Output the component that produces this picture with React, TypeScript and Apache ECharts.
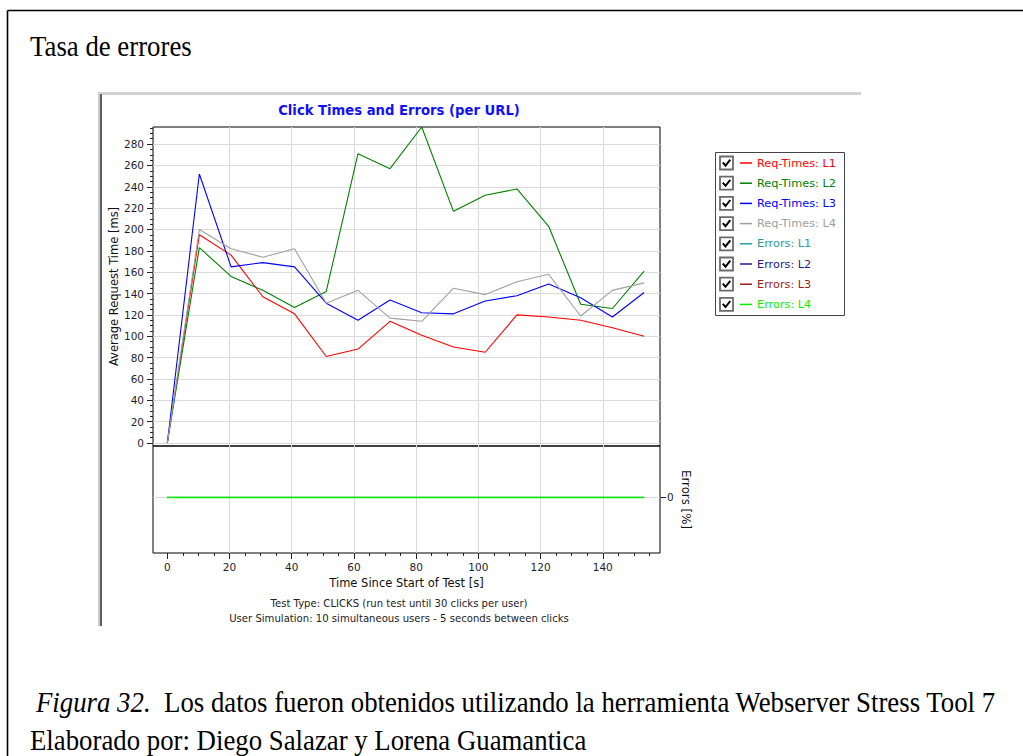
import { useEffect, useRef } from 'react';
import * as echarts from 'echarts';

// Time (s) of each sample
const times = [0, 10.3, 20.5, 30.7, 40.9, 51.1, 61.3, 71.6, 81.8, 92.0, 102.2, 112.4, 122.6, 132.9, 143.1, 153.3];
// Average request time [ms] per URL
const reqL1 = [0, 195, 176, 137, 121, 81, 88, 114, 101, 90, 85, 120, 118, 115, 108, 100];
const reqL2 = [0, 183, 156, 143, 127, 142, 271, 257, 296, 217, 232, 238, 203, 130, 126, 161];
const reqL3 = [0, 252, 165, 169, 165, 131, 115, 134, 122, 121, 133, 138, 149, 136, 118, 141];
const reqL4 = [0, 200, 182, 174, 182, 131, 143, 117, 114, 145, 139, 151, 158, 119, 143, 150];
// Errors [%] per URL
const errL1 = [0, 0, 0, 0, 0, 0, 0, 0, 0, 0, 0, 0, 0, 0, 0, 0];
const errL2 = [0, 0, 0, 0, 0, 0, 0, 0, 0, 0, 0, 0, 0, 0, 0, 0];
const errL3 = [0, 0, 0, 0, 0, 0, 0, 0, 0, 0, 0, 0, 0, 0, 0, 0];
const errL4 = [0, 0, 0, 0, 0, 0, 0, 0, 0, 0, 0, 0, 0, 0, 0, 0];

const seriesNames = ['Req-Times: L1', 'Req-Times: L2', 'Req-Times: L3', 'Req-Times: L4', 'Errors: L1', 'Errors: L2', 'Errors: L3', 'Errors: L4'];
const seriesColors = ['#ff0000', '#008000', '#0000ff', '#a0a0a0', '#2a9d9d', '#1c1c8c', '#9b1c1c', '#00ee00'];

const yTicks = [0, 20, 40, 60, 80, 100, 120, 140, 160, 180, 200, 220, 240, 260, 280];
const xTicks = [0, 20, 40, 60, 80, 100, 120, 140];
const errTicks = [0];

const pageTitle = 'Tasa de errores';
const chartTitle = 'Click Times and Errors (per URL)';
const yName = 'Average Request Time [ms]';
const xName = 'Time Since Start of Test [s]';
const errName = 'Errors [%]';
const footer1 = 'Test Type: CLICKS (run test until 30 clicks per user)';
const footer2 = 'User Simulation: 10 simultaneous users - 5 seconds between clicks';
const captionItalic = 'Figura 32.';
const captionRest = '  Los datos fueron obtenidos utilizando la herramienta Webserver Stress Tool 7';
const caption2 = 'Elaborado por: Diego Salazar y Lorena Guamantica';

const Y_MIN = -2.8, Y_MAX = 296;
const X_MIN = -4.6, X_MAX = 158.4;
const E_MIN = -1.08, E_MAX = 1;

const FONT = 'DejaVu Sans';
const SERIF = 'Liberation Serif';
const SERIF_SIZE = 26.8;

export default function App() {
  const ref = useRef<HTMLDivElement>(null);
  useEffect(() => {
    if (!ref.current) return;
    const chart = echarts.init(ref.current, null, { renderer: 'svg' });

    const yMinor: number[] = [];
    for (let v = 0; v <= 295; v += 5) yMinor.push(v);
    const xMinor: number[] = [];
    for (let v = 0; v <= 155; v += 5) xMinor.push(v);

    const pairs = (ys: number[]) => times.map((t, i) => [t, ys[i]]);
    const reqData = [reqL1, reqL2, reqL3, reqL4];
    const errData = [errL1, errL2, errL3, errL4];

    const series: any[] = [];
    reqData.forEach((d, i) => {
      series.push({
        type: 'line', name: seriesNames[i], xAxisIndex: 0, yAxisIndex: 0,
        data: pairs(d), symbol: 'none', color: seriesColors[i],
        lineStyle: { width: 1.1, color: seriesColors[i] }, z: 3,
      });
    });
    errData.forEach((d, i) => {
      series.push({
        type: 'line', name: seriesNames[4 + i], xAxisIndex: 1, yAxisIndex: 2,
        data: pairs(d), symbol: 'none', color: seriesColors[4 + i],
        lineStyle: { width: i === 3 ? 1.5 : 1, color: seriesColors[4 + i] }, z: 3 + i,
      });
    });

    const tickStyle = { color: '#222', width: 1 };
    const labelStyle = { color: '#1e1e2a', fontSize: 10.5, fontFamily: FONT };
    const grid = '#dadada';
    const noLine = { show: false, onZero: false };

    const graphic: any[] = [];
    // outer frame
    graphic.push({ type: 'line', shape: { x1: 7.5, y1: 10.5, x2: 1023, y2: 10.5 }, style: { stroke: '#000', lineWidth: 1.6 } });
    graphic.push({ type: 'line', shape: { x1: 7.5, y1: 10.5, x2: 7.5, y2: 756 }, style: { stroke: '#000', lineWidth: 1.6 } });
    // screenshot panel edges
    graphic.push({ type: 'rect', shape: { x: 98, y: 92, width: 763, height: 3 }, style: { fill: '#d2d2d2' } });
    graphic.push({ type: 'rect', shape: { x: 98, y: 92, width: 2, height: 534 }, style: { fill: '#cccccc' } });
    graphic.push({ type: 'rect', shape: { x: 100, y: 94, width: 2, height: 532 }, style: { fill: '#5e5e5e' } });
    // page heading
    graphic.push({ type: 'text', x: 30, y: 46, scaleY: 1.12, style: { text: pageTitle, fontFamily: SERIF, fontSize: SERIF_SIZE, fill: '#000', align: 'left', verticalAlign: 'middle' } });
    // chart title
    graphic.push({ type: 'text', x: 399, y: 110, style: { text: chartTitle, fontFamily: FONT, fontSize: 13.2, fontWeight: 'bold', fill: '#1010ff', align: 'center', verticalAlign: 'middle' } });
    // footers
    graphic.push({ type: 'text', x: 399, y: 603.5, style: { text: footer1, fontFamily: FONT, fontSize: 10.1, fill: '#222', align: 'center', verticalAlign: 'middle' } });
    graphic.push({ type: 'text', x: 399, y: 618.5, style: { text: footer2, fontFamily: FONT, fontSize: 10.1, fill: '#222', align: 'center', verticalAlign: 'middle' } });
    // legend box
    graphic.push({ type: 'rect', shape: { x: 715.5, y: 152.5, width: 129, height: 163 }, style: { fill: 'none', stroke: '#444', lineWidth: 1 } });
    seriesNames.forEach((_, i) => {
      const cy = 163 + i * 20.2;
      graphic.push({ type: 'rect', shape: { x: 720, y: cy - 6.5, width: 13, height: 13 }, style: { fill: '#fff', stroke: '#6a6a6a', lineWidth: 1.8 } });
      graphic.push({ type: 'polyline', shape: { points: [[722.8, cy - 0.5], [725.5, cy + 2.6], [730.3, cy - 3.4]] }, style: { fill: 'none', stroke: '#000', lineWidth: 2 } });
    });
    // caption
    graphic.push({
      type: 'text', x: 36, y: 702, scaleY: 1.12,
      style: {
        text: '{it|' + captionItalic + '}' + captionRest, fontFamily: SERIF, fontSize: SERIF_SIZE, fill: '#000',
        align: 'left', verticalAlign: 'middle',
        rich: { it: { fontStyle: 'italic', fontFamily: SERIF, fontSize: SERIF_SIZE } },
      },
    });
    graphic.push({ type: 'text', x: 30, y: 740, scaleY: 1.12, style: { text: caption2, fontFamily: SERIF, fontSize: SERIF_SIZE, fill: '#000', align: 'left', verticalAlign: 'middle' } });

    const option: any = {
      animation: false,
      backgroundColor: '#ffffff',
      textStyle: { fontFamily: FONT },
      legend: {
        orient: 'vertical', left: 740, top: 156, padding: 0,
        itemWidth: 12, itemHeight: 1.5, itemGap: 6.2, icon: 'rect', selectedMode: false,
        textStyle: { fontFamily: FONT, fontSize: 11.3, lineHeight: 14 },
        data: seriesNames.map((n, i) => ({ name: n, textStyle: { color: seriesColors[i] } })),
      },
      grid: [
        { left: 153, top: 127, width: 507, height: 319, show: true, borderColor: '#000', borderWidth: 1, backgroundColor: 'transparent', outerBoundsMode: 'none' },
        { left: 153, top: 446, width: 507, height: 107, show: true, borderColor: '#000', borderWidth: 1, backgroundColor: 'transparent', outerBoundsMode: 'none' },
      ],
      xAxis: [
        {
          type: 'value', gridIndex: 0, min: X_MIN, max: X_MAX, position: 'bottom',
          axisLine: noLine, axisLabel: { show: false },
          axisTick: { show: false, customValues: xTicks.slice(1) },
          splitLine: { show: true, lineStyle: { color: grid, width: 1 } },
        },
        {
          type: 'value', gridIndex: 1, min: X_MIN, max: X_MAX, position: 'bottom',
          axisLine: noLine,
          axisTick: { show: true, length: 6, customValues: xTicks, lineStyle: tickStyle },
          axisLabel: { show: true, customValues: xTicks, margin: 8, ...labelStyle },
          splitLine: { show: true, lineStyle: { color: ['rgba(0,0,0,0)', grid, grid, grid, grid, grid, grid, grid], width: 1 } },
          name: xName, nameLocation: 'middle', nameGap: 24,
          nameTextStyle: { fontFamily: FONT, fontSize: 11.5, color: '#111' },
        },
        {
          type: 'value', gridIndex: 1, min: X_MIN, max: X_MAX, position: 'bottom', offset: 0,
          axisLine: noLine, axisLabel: { show: false }, splitLine: { show: false },
          axisTick: { show: true, length: 3, customValues: xMinor, lineStyle: tickStyle },
        },
      ],
      yAxis: [
        {
          type: 'value', gridIndex: 0, min: Y_MIN, max: Y_MAX, position: 'left',
          axisLine: noLine,
          axisTick: { show: true, length: 6, customValues: yTicks, lineStyle: tickStyle },
          axisLabel: { show: true, customValues: yTicks, margin: 9, ...labelStyle },
          splitLine: { show: true, lineStyle: { color: grid, width: 1 } },
          name: yName, nameLocation: 'middle', nameGap: 32,
          nameTextStyle: { fontFamily: FONT, fontSize: 11.5, color: '#111' },
        },
        {
          type: 'value', gridIndex: 0, min: Y_MIN, max: Y_MAX, position: 'left', offset: 0,
          axisLine: noLine, axisLabel: { show: false }, splitLine: { show: false },
          axisTick: { show: true, length: 3, customValues: yMinor, lineStyle: tickStyle },
        },
        {
          type: 'value', gridIndex: 1, min: E_MIN, max: E_MAX, position: 'right',
          axisLine: noLine,
          axisTick: { show: true, length: 6, customValues: errTicks, lineStyle: tickStyle },
          axisLabel: { show: true, customValues: errTicks, margin: 7, ...labelStyle },
          splitLine: { show: true, lineStyle: { color: grid, width: 1 } },
          name: errName, nameLocation: 'middle', nameGap: 20, nameRotate: -90,
          nameTextStyle: { fontFamily: FONT, fontSize: 11.8, color: '#111' },
        },
      ],
      series,
      graphic,
    };
    chart.setOption(option);
    return () => chart.dispose();
  }, []);
  return <div ref={ref} style={{ position: 'absolute', left: 0, top: 0, width: 1023, height: 756, background: '#fff' }} />;
}
